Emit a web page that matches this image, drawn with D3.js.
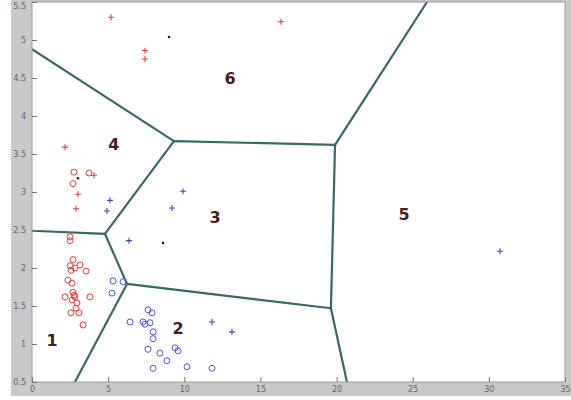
<!DOCTYPE html>
<html>
<head>
<meta charset="utf-8">
<script src="https://cdn.jsdelivr.net/npm/d3@7"></script>
<style>
  html, body { margin: 0; padding: 0; background: #fff; }
  svg { display: block; font-family: "DejaVu Sans", Arial, sans-serif; }
</style>
</head>
<body>
<svg id="chart" width="571" height="400"></svg>
<script>
// Red class: plus markers
const redPlusX = [5.19, 7.42, 7.42, 16.35, 2.17, 4.07, 3.02, 2.89];
const redPlusY = [5.30, 4.86, 4.75, 5.24, 3.59, 3.22, 2.97, 2.78];

// Red class: circle markers
const redCircX = [2.76, 3.74, 2.69, 2.50, 2.50, 2.69, 3.15, 2.50, 2.82, 3.55, 2.56, 2.36, 2.63,
                  2.69, 2.82, 2.17, 3.81, 2.95, 2.89, 2.56, 3.09, 3.35, 2.76, 2.63];
const redCircY = [3.26, 3.25, 3.11, 2.41, 2.36, 2.11, 2.04, 2.03, 2.00, 1.96, 1.97, 1.84, 1.80,
                  1.68, 1.62, 1.62, 1.62, 1.54, 1.47, 1.41, 1.41, 1.25, 1.64, 1.58];

// Blue class: circle markers
const blueCircX = [5.32, 5.98, 5.25, 7.62, 7.88, 6.44, 7.29, 7.42, 7.75, 7.95, 7.95, 7.62, 8.40,
                   8.86, 9.39, 9.59, 7.95, 10.18, 11.82];
const blueCircY = [1.83, 1.82, 1.67, 1.45, 1.41, 1.29, 1.29, 1.26, 1.28, 1.16, 1.07, 0.93, 0.88,
                   0.78, 0.95, 0.91, 0.68, 0.70, 0.68];

// Blue class: plus markers
const bluePlusX = [5.12, 4.92, 9.92, 9.19, 6.37, 11.82, 13.13, 30.73];
const bluePlusY = [2.89, 2.75, 3.01, 2.79, 2.36, 1.29, 1.16, 2.22];

// Unlabelled points (black dots)
const otherX = [9.00, 3.02, 8.60];
const otherY = [5.04, 3.18, 2.33];

// Voronoi partition: vertices and edges between them
const vertexNames = ["A", "B", "C", "T", "D", "B2", "E", "F", "L", "B1"];
const vertexX = [0, 9.32, 19.9, 25.94, 19.63, 20.68, 6.24, 4.79, 0, 2.82];
const vertexY = [4.88, 3.67, 3.62, 5.5, 1.47, 0.5, 1.79, 2.45, 2.49, 0.5];
const edgeFrom = ["A", "B", "C", "C", "D", "D", "E", "F", "F", "E"];
const edgeTo   = ["B", "C", "T", "D", "B2", "E", "F", "L", "B", "B1"];

// Region numbers
const regionLabels = ["1", "2", "3", "4", "5", "6"];
const regionX = [1.31, 9.59, 12.02, 5.38, 24.43, 13.0];
const regionY = [1.04, 1.21, 2.66, 3.62, 2.70, 4.49];

// Axis ticks
const xTicks = [0, 5, 10, 15, 20, 25, 30, 35];
const yTicks = [0.5, 1, 1.5, 2, 2.5, 3, 3.5, 4, 4.5, 5, 5.5];

const svg = d3.select("#chart");
const plot = { left: 32, right: 565, top: 2, bottom: 382 };

// figure background
svg.append("rect").attr("x", 11).attr("y", 0).attr("width", 560).attr("height", 396)
  .attr("fill", "#c8c8c8");
svg.append("rect").attr("x", plot.left).attr("y", plot.top)
  .attr("width", plot.right - plot.left).attr("height", plot.bottom - plot.top)
  .attr("fill", "#fff");

const x = d3.scaleLinear().domain([0, 35]).range([plot.left, plot.right]);
const y = d3.scaleLinear().domain([0.5, 5.5]).range([plot.bottom, plot.top]);

const g = svg.append("g");
g.append("clipPath").attr("id", "clip").append("rect")
  .attr("x", plot.left).attr("y", plot.top)
  .attr("width", plot.right - plot.left).attr("height", plot.bottom - plot.top);

const body = g.append("g").attr("clip-path", "url(#clip)");

// Voronoi edges
const vIdx = name => vertexNames.indexOf(name);
const edges = edgeFrom.map((f, i) => [vIdx(f), vIdx(edgeTo[i])]);
body.selectAll("line.edge").data(edges).join("line")
  .attr("class", "edge")
  .attr("x1", d => x(vertexX[d[0]])).attr("y1", d => y(vertexY[d[0]]))
  .attr("x2", d => x(vertexX[d[1]])).attr("y2", d => y(vertexY[d[1]]))
  .attr("stroke", "#36686a").attr("stroke-width", 2.2).attr("stroke-linecap", "round");

const zip = (xs, ys) => xs.map((v, i) => [v, ys[i]]);

function circles(xs, ys, color) {
  body.append("g").selectAll("circle").data(zip(xs, ys)).join("circle")
    .attr("cx", d => x(d[0])).attr("cy", d => y(d[1])).attr("r", 3)
    .attr("fill", "none").attr("stroke", color).attr("stroke-width", 1);
}
function pluses(xs, ys, color) {
  const s = 3;
  body.append("g").selectAll("path").data(zip(xs, ys)).join("path")
    .attr("d", d => {
      const cx = x(d[0]), cy = y(d[1]);
      return `M${cx - s},${cy}H${cx + s}M${cx},${cy - s}V${cy + s}`;
    })
    .attr("stroke", color).attr("stroke-width", 1.1).attr("fill", "none");
}

circles(redCircX, redCircY, "#e83a3a");
pluses(redPlusX, redPlusY, "#e83a3a");
circles(blueCircX, blueCircY, "#5050e0");
pluses(bluePlusX, bluePlusY, "#4040d0");

body.append("g").selectAll("circle").data(zip(otherX, otherY)).join("circle")
  .attr("cx", d => x(d[0])).attr("cy", d => y(d[1])).attr("r", 1.3)
  .attr("fill", "#222");

// region numbers
body.append("g").selectAll("text").data(regionLabels).join("text")
  .attr("x", (d, i) => x(regionX[i])).attr("y", (d, i) => y(regionY[i]))
  .attr("text-anchor", "middle").attr("dominant-baseline", "central")
  .attr("font-size", 16).attr("font-weight", "bold").attr("fill", "#4a1a1c")
  .text(d => d);

// plot frame
svg.append("rect").attr("x", plot.left).attr("y", plot.top)
  .attr("width", plot.right - plot.left).attr("height", plot.bottom - plot.top)
  .attr("fill", "none").attr("stroke", "#9a9a9a").attr("stroke-width", 1);

// axes with inward ticks
const xAxis = d3.axisBottom(x).tickValues(xTicks).tickSize(-5).tickPadding(8)
  .tickFormat(d3.format("d"));
const yAxis = d3.axisLeft(y).tickValues(yTicks).tickSize(-5).tickPadding(8)
  .tickFormat(d => d3.format("")(d));

const gx = svg.append("g").attr("transform", `translate(0,${plot.bottom})`).call(xAxis);
const gy = svg.append("g").attr("transform", `translate(${plot.left},0)`).call(yAxis);
[gx, gy].forEach(a => {
  a.select(".domain").remove();
  a.selectAll(".tick line").attr("stroke", "#777");
  a.selectAll(".tick text").attr("fill", "#666").attr("font-size", 8)
    .attr("font-family", "\"DejaVu Sans\", Arial, sans-serif");
});
gx.selectAll(".tick text").attr("dy", "0.3em");
// keep the topmost label inside the figure
gy.selectAll(".tick text").attr("dx", "2")
  .attr("dy", d => d === 5.5 ? "0.85em" : "0.32em");
</script>
</body>
</html>
